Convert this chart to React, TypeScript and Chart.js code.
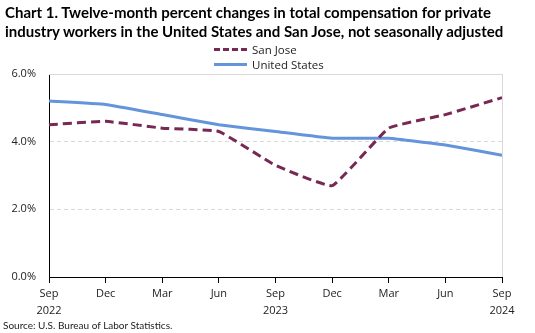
import React, { useEffect, useRef } from "react";
import { Chart, registerables } from "chart.js";

Chart.register(...registerables);

const months = ["Sep", "Dec", "Mar", "Jun", "Sep", "Dec", "Mar", "Jun", "Sep"];
const years = ["2022", "", "", "", "2023", "", "", "", "2024"];
const sanJose = [4.5, 4.6, 4.4, 4.3, 3.3, 2.7, 4.4, 4.8, 5.3];
const unitedStates = [5.2, 5.1, 4.8, 4.5, 4.3, 4.1, 4.1, 3.9, 3.6];
const yTicks = [0, 2, 4, 6];

const SJ_COLOR = "#772953";
const US_COLOR = "#6495DC";
const FONT = "'Open Sans', 'Liberation Sans', sans-serif";

const framePlugin = {
  id: "frame",
  afterDatasetsDraw(chart: any) {
    const { ctx, chartArea } = chart;
    ctx.save();
    ctx.strokeStyle = "#d9d9d9";
    ctx.lineWidth = 1;
    ctx.beginPath();
    ctx.moveTo(chartArea.left, chartArea.top + 0.5);
    ctx.lineTo(chartArea.right, chartArea.top + 0.5);
    ctx.moveTo(chartArea.right + 0.5, chartArea.top);
    ctx.lineTo(chartArea.right + 0.5, chartArea.bottom);
    ctx.stroke();
    ctx.restore();
  },
};

export default function App() {
  const ref = useRef<HTMLCanvasElement | null>(null);

  useEffect(() => {
    if (!ref.current) return;
    const labels = months.map((m, i) => (years[i] ? [m, years[i]] : m));
    const chart = new Chart(ref.current, {
      type: "line",
      data: {
        labels,
        datasets: [
          {
            label: "San Jose",
            data: sanJose,
            borderColor: SJ_COLOR,
            backgroundColor: SJ_COLOR,
            borderWidth: 3,
            borderDash: [9, 5],
            pointRadius: 0,
            tension: 0.1,
          },
          {
            label: "United States",
            data: unitedStates,
            borderColor: US_COLOR,
            backgroundColor: US_COLOR,
            borderWidth: 3,
            pointRadius: 0,
            tension: 0.1,
          },
        ],
      },
      options: {
        responsive: false,
        animation: false,
        layout: { padding: { top: 74, right: 33, bottom: 0, left: 0 } },
        plugins: {
          legend: { display: false },
          title: { display: false },
          tooltip: { enabled: false },
        },
        scales: {
          x: {
            offset: false,
            grid: {
              drawOnChartArea: false,
              drawTicks: true,
              tickLength: 6,
              color: "#000",
            },
            border: { color: "#000", width: 1 },
            ticks: {
              autoSkip: false,
              maxRotation: 0,
              padding: 3,
              color: "#222",
              font: { family: FONT, size: 11, lineHeight: 1.5 },
            },
            afterFit: (s: any) => {
              s.height = 56;
            },
          },
          y: {
            min: 0,
            max: 6,
            afterBuildTicks: (s: any) => {
              s.ticks = yTicks.map((v) => ({ value: v }));
            },
            grid: { color: "#d9d9d9", drawTicks: false, lineWidth: 1 },
            border: { color: "#000", width: 1, dash: [4, 3] },
            ticks: {
              padding: 13,
              color: "#222",
              font: { family: FONT, size: 11 },
              callback: (v: any) => Number(v).toFixed(1) + "%",
            },
            afterFit: (s: any) => {
              s.width = 49;
            },
          },
        },
      },
      plugins: [framePlugin],
    });
    return () => chart.destroy();
  }, []);

  return (
    <div
      style={{
        position: "absolute",
        left: 0,
        top: 0,
        width: 535,
        height: 333,
        background: "#fff",
        overflow: "hidden",
      }}
    >
      <canvas ref={ref} width={535} height={333} style={{ position: "absolute", left: 0, top: 0 }} />
      <div
        style={{
          position: "absolute",
          left: 5,
          top: 3,
          fontFamily: "Lato, 'Open Sans', sans-serif",
          fontWeight: 700,
          fontSize: 15,
          lineHeight: "19px",
          color: "#000",
          whiteSpace: "nowrap",
        }}
      >
        Chart 1. Twelve-month percent changes in total compensation for private
        <br />
        industry workers in the United States and San Jose, not seasonally adjusted
      </div>
      <div
        style={{
          position: "absolute",
          left: 214,
          top: 42,
          fontFamily: FONT,
          fontSize: 11.5,
          color: "#222",
          lineHeight: "15px",
        }}
      >
        <div style={{ display: "flex", alignItems: "center" }}>
          <span
            style={{
              display: "inline-block",
              width: 33,
              height: 0,
              borderTop: `3px dashed ${SJ_COLOR}`,
              marginRight: 5,
            }}
          />
          <span>San Jose</span>
        </div>
        <div style={{ display: "flex", alignItems: "center" }}>
          <span
            style={{
              display: "inline-block",
              width: 33,
              height: 3,
              background: US_COLOR,
              marginRight: 5,
            }}
          />
          <span>United States</span>
        </div>
      </div>
      <div
        style={{
          position: "absolute",
          left: 3,
          top: 319,
          fontFamily: "Lato, 'Open Sans', sans-serif",
          fontSize: 10,
          color: "#222",
          whiteSpace: "nowrap",
        }}
      >
        Source: U.S. Bureau of Labor Statistics.
      </div>
    </div>
  );
}
